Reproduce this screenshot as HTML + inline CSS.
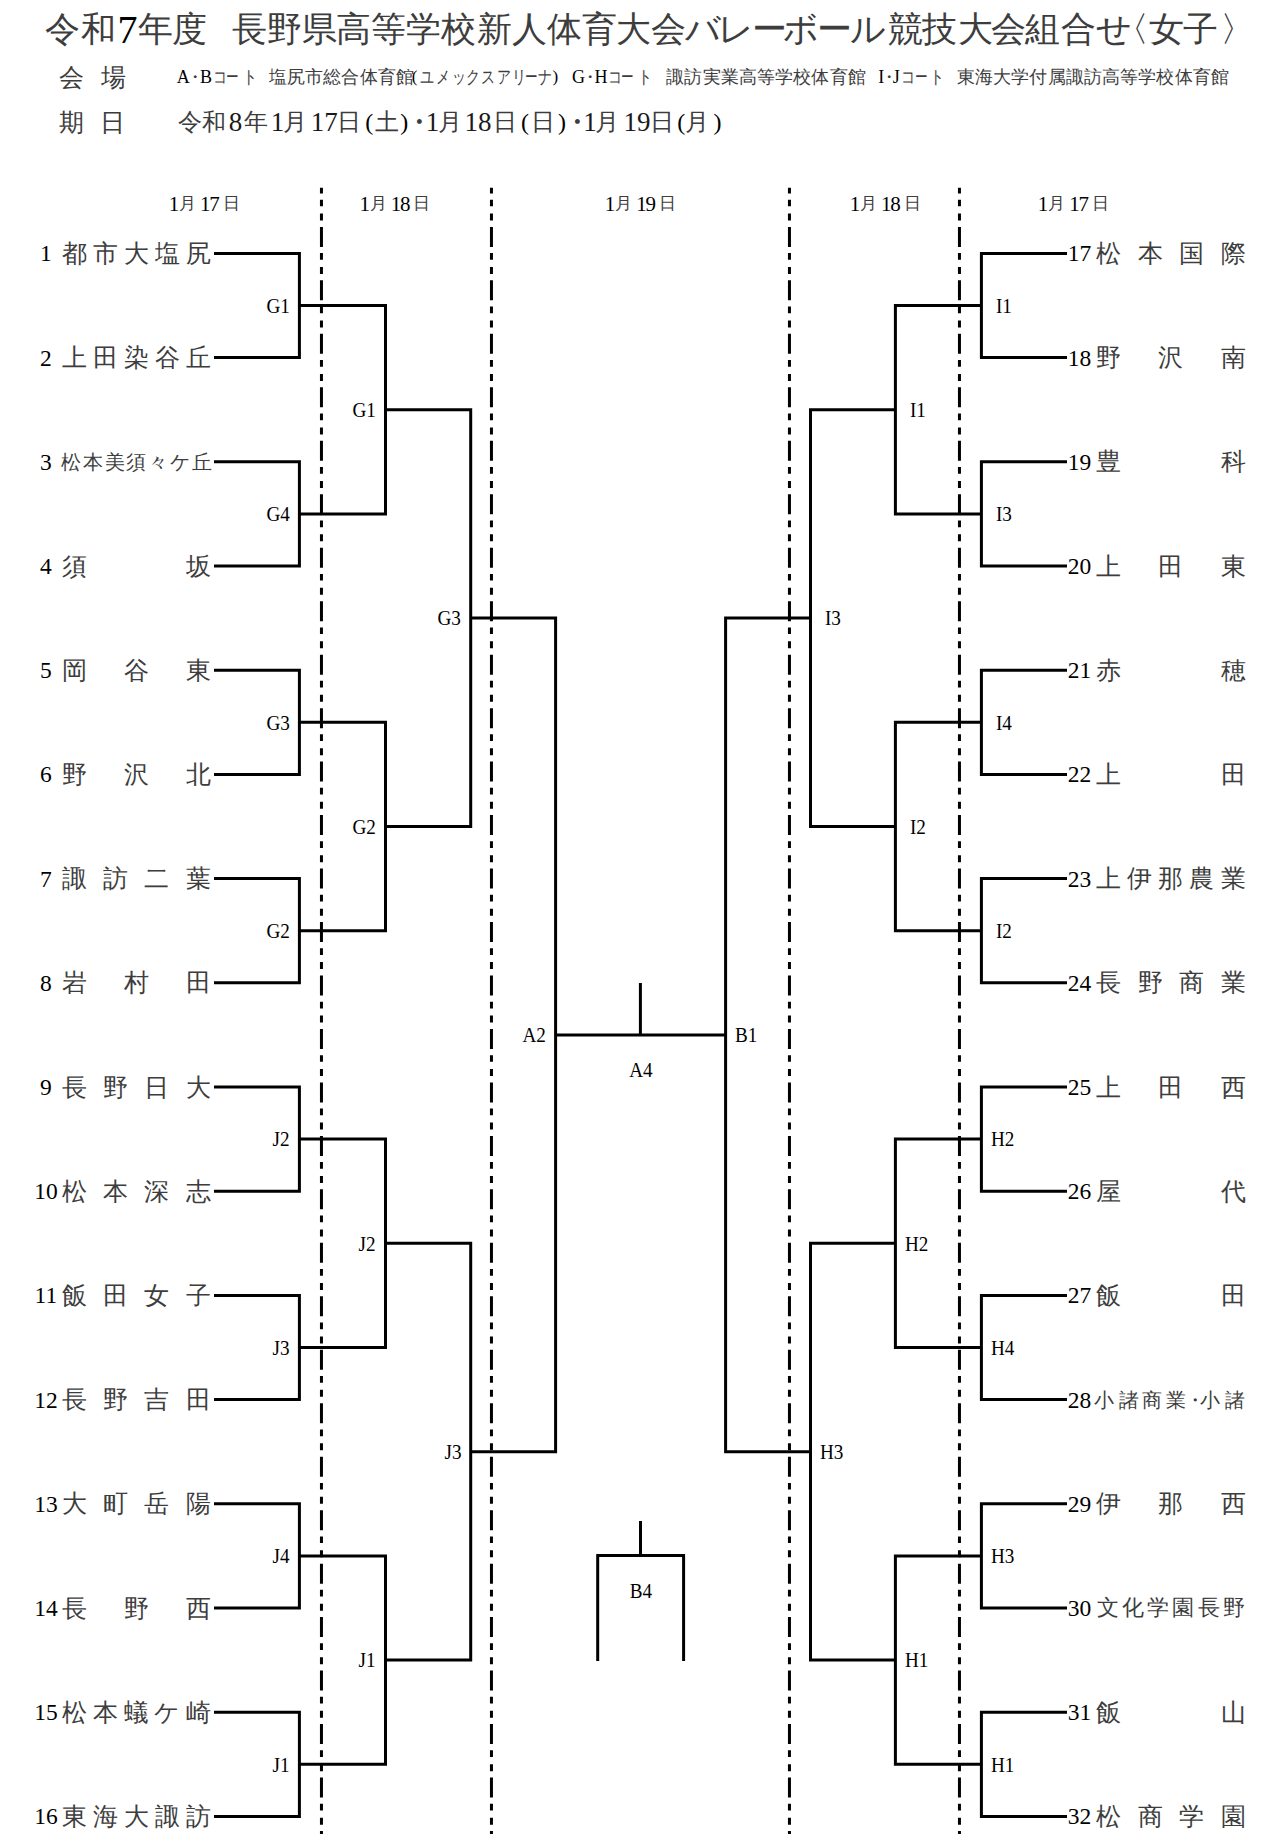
<!DOCTYPE html>
<html lang="ja"><head><meta charset="utf-8"><title>組合せ</title>
<style>
html,body{margin:0;padding:0;background:#fff}
body{width:1279px;height:1839px;position:relative;overflow:hidden;color:#000;font-family:"Liberation Serif",serif}
.c{position:absolute;text-align:center;white-space:nowrap;font-family:"Liberation Serif",serif}
.j{color:#3d3d3d}
.lb{position:absolute;white-space:nowrap;font-size:22px;line-height:22px;height:22px;font-family:"Liberation Serif",serif}
.l{transform:scaleX(.87);transform-origin:100% 50%;text-align:right}
.r{transform:scaleX(.87);transform-origin:0 50%}
.cc{text-align:center;transform:scaleX(.87)}
svg{position:absolute;left:0;top:0}
</style></head><body>
<svg width="1279" height="1839" viewBox="0 0 1279 1839">
<g fill="none" stroke="#000" stroke-width="3" stroke-linejoin="miter" stroke-linecap="butt">
<path d="M214 253.40H299.4V357.60H214"/>
<path d="M214 461.80H299.4V566.00H214"/>
<path d="M214 670.20H299.4V774.40H214"/>
<path d="M214 878.60H299.4V982.80H214"/>
<path d="M214 1087.00H299.4V1191.20H214"/>
<path d="M214 1295.40H299.4V1399.60H214"/>
<path d="M214 1503.80H299.4V1608.00H214"/>
<path d="M214 1712.20H299.4V1816.40H214"/>
<path d="M299.4 305.50H385.5V513.90H299.4"/>
<path d="M299.4 722.30H385.5V930.70H299.4"/>
<path d="M299.4 1139.10H385.5V1347.50H299.4"/>
<path d="M299.4 1555.90H385.5V1764.30H299.4"/>
<path d="M385.5 409.70H470.7V826.50H385.5"/>
<path d="M385.5 1243.30H470.7V1660.10H385.5"/>
<path d="M470.7 618.10H555.6V1451.70H470.7"/>
<path d="M1067 253.40H981.4V357.60H1067"/>
<path d="M1067 461.80H981.4V566.00H1067"/>
<path d="M1067 670.20H981.4V774.40H1067"/>
<path d="M1067 878.60H981.4V982.80H1067"/>
<path d="M1067 1087.00H981.4V1191.20H1067"/>
<path d="M1067 1295.40H981.4V1399.60H1067"/>
<path d="M1067 1503.80H981.4V1608.00H1067"/>
<path d="M1067 1712.20H981.4V1816.40H1067"/>
<path d="M981.4 305.50H895.4V513.90H981.4"/>
<path d="M981.4 722.30H895.4V930.70H981.4"/>
<path d="M981.4 1139.10H895.4V1347.50H981.4"/>
<path d="M981.4 1555.90H895.4V1764.30H981.4"/>
<path d="M895.4 409.70H810.5V826.50H895.4"/>
<path d="M895.4 1243.30H810.5V1660.10H895.4"/>
<path d="M810.5 618.10H725.6V1451.70H810.5"/>
<path d="M555.6 1034.90H725.6"/>
<path d="M640.4 983V1034.90"/>
<path d="M597.7 1661V1555.5H683.6V1661"/>
<path d="M640.5 1521V1555.5"/>
</g>
<g fill="none" stroke="#000" stroke-width="3" stroke-dasharray="20 6.2 6.7 7.2 7 6.37" stroke-dashoffset="14.37">
<path d="M321.45 187.8V1834"/>
<path d="M491.45 187.8V1834"/>
<path d="M789.45 187.8V1834"/>
<path d="M959.45 187.8V1834"/>
</g>
</svg>
<span class="c j" style="left:41.9px;top:12.2px;width:42.0px;font-size:35px;line-height:35px;height:35px">令</span>
<span class="c j" style="left:77.0px;top:12.2px;width:42.0px;font-size:35px;line-height:35px;height:35px">和</span>
<span class="c" style="left:103.4px;top:10.0px;width:48.0px;font-size:40px;line-height:40px;height:40px">7</span>
<span class="c j" style="left:134.0px;top:12.2px;width:42.0px;font-size:35px;line-height:35px;height:35px">年</span>
<span class="c j" style="left:168.5px;top:12.2px;width:42.0px;font-size:35px;line-height:35px;height:35px">度</span>
<span class="c j" style="left:228.4px;top:12.2px;width:42.0px;font-size:35px;line-height:35px;height:35px">長</span>
<span class="c j" style="left:263.5px;top:12.2px;width:42.0px;font-size:35px;line-height:35px;height:35px">野</span>
<span class="c j" style="left:298.2px;top:12.2px;width:42.0px;font-size:35px;line-height:35px;height:35px">県</span>
<span class="c j" style="left:332.4px;top:12.2px;width:42.0px;font-size:35px;line-height:35px;height:35px">高</span>
<span class="c j" style="left:367.0px;top:12.2px;width:42.0px;font-size:35px;line-height:35px;height:35px">等</span>
<span class="c j" style="left:402.3px;top:12.2px;width:42.0px;font-size:35px;line-height:35px;height:35px">学</span>
<span class="c j" style="left:437.5px;top:12.2px;width:42.0px;font-size:35px;line-height:35px;height:35px">校</span>
<span class="c j" style="left:473.0px;top:12.2px;width:42.0px;font-size:35px;line-height:35px;height:35px">新</span>
<span class="c j" style="left:508.0px;top:12.2px;width:42.0px;font-size:35px;line-height:35px;height:35px">人</span>
<span class="c j" style="left:543.0px;top:12.2px;width:42.0px;font-size:35px;line-height:35px;height:35px">体</span>
<span class="c j" style="left:578.4px;top:12.2px;width:42.0px;font-size:35px;line-height:35px;height:35px">育</span>
<span class="c j" style="left:612.0px;top:12.2px;width:42.0px;font-size:35px;line-height:35px;height:35px">大</span>
<span class="c j" style="left:647.8px;top:12.2px;width:42.0px;font-size:35px;line-height:35px;height:35px">会</span>
<span class="c j" style="left:681.6px;top:12.2px;width:42.0px;font-size:35px;line-height:35px;height:35px">バ</span>
<span class="c j" style="left:715.4px;top:12.2px;width:42.0px;font-size:35px;line-height:35px;height:35px">レ</span>
<span class="c j" style="left:748.0px;top:12.2px;width:42.0px;font-size:35px;line-height:35px;height:35px">ー</span>
<span class="c j" style="left:779.8px;top:12.2px;width:42.0px;font-size:35px;line-height:35px;height:35px">ボ</span>
<span class="c j" style="left:813.1px;top:12.2px;width:42.0px;font-size:35px;line-height:35px;height:35px">ー</span>
<span class="c j" style="left:847.0px;top:12.2px;width:42.0px;font-size:35px;line-height:35px;height:35px">ル</span>
<span class="c j" style="left:884.4px;top:12.2px;width:42.0px;font-size:35px;line-height:35px;height:35px">競</span>
<span class="c j" style="left:918.5px;top:12.2px;width:42.0px;font-size:35px;line-height:35px;height:35px">技</span>
<span class="c j" style="left:954.0px;top:12.2px;width:42.0px;font-size:35px;line-height:35px;height:35px">大</span>
<span class="c j" style="left:987.3px;top:12.2px;width:42.0px;font-size:35px;line-height:35px;height:35px">会</span>
<span class="c j" style="left:1021.4px;top:12.2px;width:42.0px;font-size:35px;line-height:35px;height:35px">組</span>
<span class="c j" style="left:1057.0px;top:12.2px;width:42.0px;font-size:35px;line-height:35px;height:35px">合</span>
<span class="c j" style="left:1092.5px;top:12.2px;width:42.0px;font-size:35px;line-height:35px;height:35px">せ</span>
<span class="c j" style="left:1110.5px;top:12.2px;width:42.0px;font-size:35px;line-height:35px;height:35px">〈</span>
<span class="c j" style="left:1145.3px;top:12.2px;width:42.0px;font-size:35px;line-height:35px;height:35px">女</span>
<span class="c j" style="left:1179.4px;top:12.2px;width:42.0px;font-size:35px;line-height:35px;height:35px">子</span>
<span class="c j" style="left:1216.9px;top:12.2px;width:42.0px;font-size:35px;line-height:35px;height:35px">〉</span>
<span class="c j" style="left:56.2px;top:64.7px;width:30.0px;font-size:25px;line-height:25px;height:25px">会</span>
<span class="c j" style="left:98.0px;top:64.7px;width:30.0px;font-size:25px;line-height:25px;height:25px">場</span>
<span class="c j" style="left:56.2px;top:109.5px;width:30.0px;font-size:25px;line-height:25px;height:25px">期</span>
<span class="c j" style="left:97.5px;top:109.5px;width:30.0px;font-size:25px;line-height:25px;height:25px">日</span>
<span class="c" style="left:172.5px;top:68.0px;width:21.6px;font-size:18px;line-height:18px;height:18px">A</span>
<span class="c j" style="left:184.2px;top:68.0px;width:21.6px;font-size:18px;line-height:18px;height:18px">・</span>
<span class="c" style="left:195.2px;top:68.0px;width:21.6px;font-size:18px;line-height:18px;height:18px">B</span>
<span class="c j" style="left:208.5px;top:68.0px;width:21.6px;font-size:18px;line-height:18px;height:18px;transform:scaleX(.78)">コ</span>
<span class="c j" style="left:222.2px;top:68.0px;width:21.6px;font-size:18px;line-height:18px;height:18px;transform:scaleX(.7)">ー</span>
<span class="c j" style="left:238.6px;top:68.0px;width:21.6px;font-size:18px;line-height:18px;height:18px;transform:scaleX(.78)">ト</span>
<span class="c j" style="left:267.1px;top:68.0px;width:21.6px;font-size:18px;line-height:18px;height:18px">塩</span>
<span class="c j" style="left:285.2px;top:68.0px;width:21.6px;font-size:18px;line-height:18px;height:18px">尻</span>
<span class="c j" style="left:303.4px;top:68.0px;width:21.6px;font-size:18px;line-height:18px;height:18px">市</span>
<span class="c j" style="left:321.5px;top:68.0px;width:21.6px;font-size:18px;line-height:18px;height:18px">総</span>
<span class="c j" style="left:339.7px;top:68.0px;width:21.6px;font-size:18px;line-height:18px;height:18px">合</span>
<span class="c j" style="left:357.8px;top:68.0px;width:21.6px;font-size:18px;line-height:18px;height:18px">体</span>
<span class="c j" style="left:376.0px;top:68.0px;width:21.6px;font-size:18px;line-height:18px;height:18px">育</span>
<span class="c j" style="left:394.1px;top:68.0px;width:21.6px;font-size:18px;line-height:18px;height:18px">館</span>
<span class="c" style="left:404.5px;top:68.0px;width:20.4px;font-size:17px;line-height:17px;height:17px">(</span>
<span class="c j" style="left:415.7px;top:68.0px;width:21.6px;font-size:18px;line-height:18px;height:18px;transform:scaleX(.78)">ユ</span>
<span class="c j" style="left:432.2px;top:68.0px;width:21.6px;font-size:18px;line-height:18px;height:18px;transform:scaleX(.78)">メ</span>
<span class="c j" style="left:447.7px;top:68.0px;width:21.6px;font-size:18px;line-height:18px;height:18px;transform:scaleX(.78)">ッ</span>
<span class="c j" style="left:461.8px;top:68.0px;width:21.6px;font-size:18px;line-height:18px;height:18px;transform:scaleX(.78)">ク</span>
<span class="c j" style="left:477.4px;top:68.0px;width:21.6px;font-size:18px;line-height:18px;height:18px;transform:scaleX(.78)">ス</span>
<span class="c j" style="left:492.6px;top:68.0px;width:21.6px;font-size:18px;line-height:18px;height:18px;transform:scaleX(.78)">ア</span>
<span class="c j" style="left:507.5px;top:68.0px;width:21.6px;font-size:18px;line-height:18px;height:18px;transform:scaleX(.78)">リ</span>
<span class="c j" style="left:521.0px;top:68.0px;width:21.6px;font-size:18px;line-height:18px;height:18px;transform:scaleX(.7)">ー</span>
<span class="c j" style="left:534.2px;top:68.0px;width:21.6px;font-size:18px;line-height:18px;height:18px;transform:scaleX(.78)">ナ</span>
<span class="c" style="left:545.2px;top:68.0px;width:20.4px;font-size:17px;line-height:17px;height:17px">)</span>
<span class="c" style="left:567.6px;top:68.0px;width:21.6px;font-size:18px;line-height:18px;height:18px">G</span>
<span class="c j" style="left:579.3px;top:68.0px;width:21.6px;font-size:18px;line-height:18px;height:18px">・</span>
<span class="c" style="left:590.3px;top:68.0px;width:21.6px;font-size:18px;line-height:18px;height:18px">H</span>
<span class="c j" style="left:603.6px;top:68.0px;width:21.6px;font-size:18px;line-height:18px;height:18px;transform:scaleX(.78)">コ</span>
<span class="c j" style="left:617.3px;top:68.0px;width:21.6px;font-size:18px;line-height:18px;height:18px;transform:scaleX(.7)">ー</span>
<span class="c j" style="left:633.7px;top:68.0px;width:21.6px;font-size:18px;line-height:18px;height:18px;transform:scaleX(.78)">ト</span>
<span class="c j" style="left:664.5px;top:68.0px;width:21.6px;font-size:18px;line-height:18px;height:18px">諏</span>
<span class="c j" style="left:682.6px;top:68.0px;width:21.6px;font-size:18px;line-height:18px;height:18px">訪</span>
<span class="c j" style="left:700.8px;top:68.0px;width:21.6px;font-size:18px;line-height:18px;height:18px">実</span>
<span class="c j" style="left:719.0px;top:68.0px;width:21.6px;font-size:18px;line-height:18px;height:18px">業</span>
<span class="c j" style="left:737.1px;top:68.0px;width:21.6px;font-size:18px;line-height:18px;height:18px">高</span>
<span class="c j" style="left:755.2px;top:68.0px;width:21.6px;font-size:18px;line-height:18px;height:18px">等</span>
<span class="c j" style="left:773.4px;top:68.0px;width:21.6px;font-size:18px;line-height:18px;height:18px">学</span>
<span class="c j" style="left:791.5px;top:68.0px;width:21.6px;font-size:18px;line-height:18px;height:18px">校</span>
<span class="c j" style="left:809.7px;top:68.0px;width:21.6px;font-size:18px;line-height:18px;height:18px">体</span>
<span class="c j" style="left:827.9px;top:68.0px;width:21.6px;font-size:18px;line-height:18px;height:18px">育</span>
<span class="c j" style="left:846.0px;top:68.0px;width:21.6px;font-size:18px;line-height:18px;height:18px">館</span>
<span class="c" style="left:870.5px;top:68.0px;width:21.6px;font-size:18px;line-height:18px;height:18px">I</span>
<span class="c j" style="left:878.0px;top:68.0px;width:21.6px;font-size:18px;line-height:18px;height:18px">・</span>
<span class="c" style="left:885.4px;top:68.0px;width:21.6px;font-size:18px;line-height:18px;height:18px">J</span>
<span class="c j" style="left:897.1px;top:68.0px;width:21.6px;font-size:18px;line-height:18px;height:18px;transform:scaleX(.78)">コ</span>
<span class="c j" style="left:911.2px;top:68.0px;width:21.6px;font-size:18px;line-height:18px;height:18px;transform:scaleX(.7)">ー</span>
<span class="c j" style="left:926.4px;top:68.0px;width:21.6px;font-size:18px;line-height:18px;height:18px;transform:scaleX(.78)">ト</span>
<span class="c j" style="left:955.0px;top:68.0px;width:21.6px;font-size:18px;line-height:18px;height:18px">東</span>
<span class="c j" style="left:973.1px;top:68.0px;width:21.6px;font-size:18px;line-height:18px;height:18px">海</span>
<span class="c j" style="left:991.3px;top:68.0px;width:21.6px;font-size:18px;line-height:18px;height:18px">大</span>
<span class="c j" style="left:1009.5px;top:68.0px;width:21.6px;font-size:18px;line-height:18px;height:18px">学</span>
<span class="c j" style="left:1027.6px;top:68.0px;width:21.6px;font-size:18px;line-height:18px;height:18px">付</span>
<span class="c j" style="left:1045.8px;top:68.0px;width:21.6px;font-size:18px;line-height:18px;height:18px">属</span>
<span class="c j" style="left:1063.9px;top:68.0px;width:21.6px;font-size:18px;line-height:18px;height:18px">諏</span>
<span class="c j" style="left:1082.0px;top:68.0px;width:21.6px;font-size:18px;line-height:18px;height:18px">訪</span>
<span class="c j" style="left:1100.2px;top:68.0px;width:21.6px;font-size:18px;line-height:18px;height:18px">高</span>
<span class="c j" style="left:1118.3px;top:68.0px;width:21.6px;font-size:18px;line-height:18px;height:18px">等</span>
<span class="c j" style="left:1136.5px;top:68.0px;width:21.6px;font-size:18px;line-height:18px;height:18px">学</span>
<span class="c j" style="left:1154.6px;top:68.0px;width:21.6px;font-size:18px;line-height:18px;height:18px">校</span>
<span class="c j" style="left:1172.8px;top:68.0px;width:21.6px;font-size:18px;line-height:18px;height:18px">体</span>
<span class="c j" style="left:1191.0px;top:68.0px;width:21.6px;font-size:18px;line-height:18px;height:18px">育</span>
<span class="c j" style="left:1209.1px;top:68.0px;width:21.6px;font-size:18px;line-height:18px;height:18px">館</span>
<span class="c j" style="left:175.6px;top:110.0px;width:28.8px;font-size:24px;line-height:24px;height:24px">令</span>
<span class="c j" style="left:199.3px;top:110.0px;width:28.8px;font-size:24px;line-height:24px;height:24px">和</span>
<span class="c" style="left:219.4px;top:108.7px;width:32.4px;font-size:27px;line-height:27px;height:27px;color:#1a1a1a">8</span>
<span class="c j" style="left:241.2px;top:110.0px;width:28.8px;font-size:24px;line-height:24px;height:24px">年</span>
<span class="c" style="left:261.3px;top:108.7px;width:32.4px;font-size:27px;line-height:27px;height:27px;color:#1a1a1a">1</span>
<span class="c j" style="left:280.6px;top:110.0px;width:28.8px;font-size:24px;line-height:24px;height:24px">月</span>
<span class="c" style="left:308.1px;top:108.7px;width:32.4px;font-size:27px;line-height:27px;height:27px;color:#1a1a1a">17</span>
<span class="c j" style="left:334.9px;top:110.0px;width:28.8px;font-size:24px;line-height:24px;height:24px">日</span>
<span class="c" style="left:354.9px;top:110.0px;width:28.8px;font-size:24px;line-height:24px;height:24px">(</span>
<span class="c j" style="left:372.6px;top:110.0px;width:28.8px;font-size:24px;line-height:24px;height:24px">土</span>
<span class="c" style="left:389.9px;top:110.0px;width:28.8px;font-size:24px;line-height:24px;height:24px">)</span>
<span class="c j" style="left:400.5px;top:107.0px;width:36.0px;font-size:30px;line-height:30px;height:30px">・</span>
<span class="c" style="left:416.3px;top:108.7px;width:32.4px;font-size:27px;line-height:27px;height:27px;color:#1a1a1a">1</span>
<span class="c j" style="left:436.1px;top:110.0px;width:28.8px;font-size:24px;line-height:24px;height:24px">月</span>
<span class="c" style="left:461.8px;top:108.7px;width:32.4px;font-size:27px;line-height:27px;height:27px;color:#1a1a1a">18</span>
<span class="c j" style="left:490.6px;top:110.0px;width:28.8px;font-size:24px;line-height:24px;height:24px">日</span>
<span class="c" style="left:510.6px;top:110.0px;width:28.8px;font-size:24px;line-height:24px;height:24px">(</span>
<span class="c j" style="left:529.1px;top:110.0px;width:28.8px;font-size:24px;line-height:24px;height:24px">日</span>
<span class="c" style="left:547.6px;top:110.0px;width:28.8px;font-size:24px;line-height:24px;height:24px">)</span>
<span class="c j" style="left:558.5px;top:107.0px;width:36.0px;font-size:30px;line-height:30px;height:30px">・</span>
<span class="c" style="left:573.8px;top:108.7px;width:32.4px;font-size:27px;line-height:27px;height:27px;color:#1a1a1a">1</span>
<span class="c j" style="left:593.1px;top:110.0px;width:28.8px;font-size:24px;line-height:24px;height:24px">月</span>
<span class="c" style="left:620.8px;top:108.7px;width:32.4px;font-size:27px;line-height:27px;height:27px;color:#1a1a1a">19</span>
<span class="c j" style="left:648.1px;top:110.0px;width:28.8px;font-size:24px;line-height:24px;height:24px">日</span>
<span class="c" style="left:666.9px;top:110.0px;width:28.8px;font-size:24px;line-height:24px;height:24px">(</span>
<span class="c j" style="left:683.1px;top:110.0px;width:28.8px;font-size:24px;line-height:24px;height:24px">月</span>
<span class="c" style="left:703.1px;top:110.0px;width:28.8px;font-size:24px;line-height:24px;height:24px">)</span>
<span class="c" style="left:161.3px;top:193.6px;width:25.2px;font-size:21px;line-height:21px;height:21px">1</span>
<span class="c j" style="left:177.4px;top:195.1px;width:20.4px;font-size:17px;line-height:17px;height:17px">月</span>
<span class="c" style="left:192.6px;top:193.6px;width:25.2px;font-size:21px;line-height:21px;height:21px">1</span>
<span class="c" style="left:201.9px;top:193.6px;width:25.2px;font-size:21px;line-height:21px;height:21px">7</span>
<span class="c j" style="left:220.9px;top:195.2px;width:20.4px;font-size:17px;line-height:17px;height:17px">日</span>
<span class="c" style="left:352.1px;top:193.6px;width:25.2px;font-size:21px;line-height:21px;height:21px">1</span>
<span class="c j" style="left:368.2px;top:195.1px;width:20.4px;font-size:17px;line-height:17px;height:17px">月</span>
<span class="c" style="left:383.4px;top:193.6px;width:25.2px;font-size:21px;line-height:21px;height:21px">1</span>
<span class="c" style="left:392.7px;top:193.6px;width:25.2px;font-size:21px;line-height:21px;height:21px">8</span>
<span class="c j" style="left:411.7px;top:195.2px;width:20.4px;font-size:17px;line-height:17px;height:17px">日</span>
<span class="c" style="left:597.5px;top:193.6px;width:25.2px;font-size:21px;line-height:21px;height:21px">1</span>
<span class="c j" style="left:613.6px;top:195.1px;width:20.4px;font-size:17px;line-height:17px;height:17px">月</span>
<span class="c" style="left:628.8px;top:193.6px;width:25.2px;font-size:21px;line-height:21px;height:21px">1</span>
<span class="c" style="left:638.1px;top:193.6px;width:25.2px;font-size:21px;line-height:21px;height:21px">9</span>
<span class="c j" style="left:657.1px;top:195.2px;width:20.4px;font-size:17px;line-height:17px;height:17px">日</span>
<span class="c" style="left:842.4px;top:193.6px;width:25.2px;font-size:21px;line-height:21px;height:21px">1</span>
<span class="c j" style="left:858.5px;top:195.1px;width:20.4px;font-size:17px;line-height:17px;height:17px">月</span>
<span class="c" style="left:873.7px;top:193.6px;width:25.2px;font-size:21px;line-height:21px;height:21px">1</span>
<span class="c" style="left:883.0px;top:193.6px;width:25.2px;font-size:21px;line-height:21px;height:21px">8</span>
<span class="c j" style="left:902.0px;top:195.2px;width:20.4px;font-size:17px;line-height:17px;height:17px">日</span>
<span class="c" style="left:1030.5px;top:193.6px;width:25.2px;font-size:21px;line-height:21px;height:21px">1</span>
<span class="c j" style="left:1046.6px;top:195.1px;width:20.4px;font-size:17px;line-height:17px;height:17px">月</span>
<span class="c" style="left:1061.8px;top:193.6px;width:25.2px;font-size:21px;line-height:21px;height:21px">1</span>
<span class="c" style="left:1071.1px;top:193.6px;width:25.2px;font-size:21px;line-height:21px;height:21px">7</span>
<span class="c j" style="left:1090.1px;top:195.2px;width:20.4px;font-size:17px;line-height:17px;height:17px">日</span>
<span class="c" style="left:25.9px;top:242.3px;width:40.0px;font-size:23.5px;line-height:23.5px;height:23.5px">1</span>
<span class="c j" style="left:59.0px;top:240.8px;width:30.0px;font-size:25px;line-height:25px;height:25px">都</span>
<span class="c j" style="left:90.0px;top:240.8px;width:30.0px;font-size:25px;line-height:25px;height:25px">市</span>
<span class="c j" style="left:121.0px;top:240.8px;width:30.0px;font-size:25px;line-height:25px;height:25px">大</span>
<span class="c j" style="left:152.0px;top:240.8px;width:30.0px;font-size:25px;line-height:25px;height:25px">塩</span>
<span class="c j" style="left:183.0px;top:240.8px;width:30.0px;font-size:25px;line-height:25px;height:25px">尻</span>
<span class="c" style="left:25.9px;top:346.5px;width:40.0px;font-size:23.5px;line-height:23.5px;height:23.5px">2</span>
<span class="c j" style="left:59.0px;top:345.1px;width:30.0px;font-size:25px;line-height:25px;height:25px">上</span>
<span class="c j" style="left:90.0px;top:345.1px;width:30.0px;font-size:25px;line-height:25px;height:25px">田</span>
<span class="c j" style="left:121.0px;top:345.1px;width:30.0px;font-size:25px;line-height:25px;height:25px">染</span>
<span class="c j" style="left:152.0px;top:345.1px;width:30.0px;font-size:25px;line-height:25px;height:25px">谷</span>
<span class="c j" style="left:183.0px;top:345.1px;width:30.0px;font-size:25px;line-height:25px;height:25px">丘</span>
<span class="c" style="left:25.9px;top:450.7px;width:40.0px;font-size:23.5px;line-height:23.5px;height:23.5px">3</span>
<span class="c j" style="left:59.4px;top:451.7px;width:24.0px;font-size:20px;line-height:20px;height:20px">松</span>
<span class="c j" style="left:81.1px;top:451.7px;width:24.0px;font-size:20px;line-height:20px;height:20px">本</span>
<span class="c j" style="left:102.8px;top:451.7px;width:24.0px;font-size:20px;line-height:20px;height:20px">美</span>
<span class="c j" style="left:124.4px;top:451.7px;width:24.0px;font-size:20px;line-height:20px;height:20px">須</span>
<span class="c j" style="left:146.1px;top:451.7px;width:24.0px;font-size:20px;line-height:20px;height:20px">々</span>
<span class="c j" style="left:167.8px;top:451.7px;width:24.0px;font-size:20px;line-height:20px;height:20px">ケ</span>
<span class="c j" style="left:189.5px;top:451.7px;width:24.0px;font-size:20px;line-height:20px;height:20px">丘</span>
<span class="c" style="left:25.9px;top:554.9px;width:40.0px;font-size:23.5px;line-height:23.5px;height:23.5px">4</span>
<span class="c j" style="left:59.0px;top:553.5px;width:30.0px;font-size:25px;line-height:25px;height:25px">須</span>
<span class="c j" style="left:183.0px;top:553.5px;width:30.0px;font-size:25px;line-height:25px;height:25px">坂</span>
<span class="c" style="left:25.9px;top:659.1px;width:40.0px;font-size:23.5px;line-height:23.5px;height:23.5px">5</span>
<span class="c j" style="left:59.0px;top:657.7px;width:30.0px;font-size:25px;line-height:25px;height:25px">岡</span>
<span class="c j" style="left:121.0px;top:657.7px;width:30.0px;font-size:25px;line-height:25px;height:25px">谷</span>
<span class="c j" style="left:183.0px;top:657.7px;width:30.0px;font-size:25px;line-height:25px;height:25px">東</span>
<span class="c" style="left:25.9px;top:763.3px;width:40.0px;font-size:23.5px;line-height:23.5px;height:23.5px">6</span>
<span class="c j" style="left:59.0px;top:761.9px;width:30.0px;font-size:25px;line-height:25px;height:25px">野</span>
<span class="c j" style="left:121.0px;top:761.9px;width:30.0px;font-size:25px;line-height:25px;height:25px">沢</span>
<span class="c j" style="left:183.0px;top:761.9px;width:30.0px;font-size:25px;line-height:25px;height:25px">北</span>
<span class="c" style="left:25.9px;top:867.5px;width:40.0px;font-size:23.5px;line-height:23.5px;height:23.5px">7</span>
<span class="c j" style="left:59.0px;top:866.1px;width:30.0px;font-size:25px;line-height:25px;height:25px">諏</span>
<span class="c j" style="left:100.3px;top:866.1px;width:30.0px;font-size:25px;line-height:25px;height:25px">訪</span>
<span class="c j" style="left:141.7px;top:866.1px;width:30.0px;font-size:25px;line-height:25px;height:25px">二</span>
<span class="c j" style="left:183.0px;top:866.1px;width:30.0px;font-size:25px;line-height:25px;height:25px">葉</span>
<span class="c" style="left:25.9px;top:971.7px;width:40.0px;font-size:23.5px;line-height:23.5px;height:23.5px">8</span>
<span class="c j" style="left:59.0px;top:970.2px;width:30.0px;font-size:25px;line-height:25px;height:25px">岩</span>
<span class="c j" style="left:121.0px;top:970.2px;width:30.0px;font-size:25px;line-height:25px;height:25px">村</span>
<span class="c j" style="left:183.0px;top:970.2px;width:30.0px;font-size:25px;line-height:25px;height:25px">田</span>
<span class="c" style="left:25.9px;top:1075.9px;width:40.0px;font-size:23.5px;line-height:23.5px;height:23.5px">9</span>
<span class="c j" style="left:59.0px;top:1074.5px;width:30.0px;font-size:25px;line-height:25px;height:25px">長</span>
<span class="c j" style="left:100.3px;top:1074.5px;width:30.0px;font-size:25px;line-height:25px;height:25px">野</span>
<span class="c j" style="left:141.7px;top:1074.5px;width:30.0px;font-size:25px;line-height:25px;height:25px">日</span>
<span class="c j" style="left:183.0px;top:1074.5px;width:30.0px;font-size:25px;line-height:25px;height:25px">大</span>
<span class="c" style="left:25.9px;top:1180.1px;width:40.0px;font-size:23.5px;line-height:23.5px;height:23.5px">10</span>
<span class="c j" style="left:59.0px;top:1178.7px;width:30.0px;font-size:25px;line-height:25px;height:25px">松</span>
<span class="c j" style="left:100.3px;top:1178.7px;width:30.0px;font-size:25px;line-height:25px;height:25px">本</span>
<span class="c j" style="left:141.7px;top:1178.7px;width:30.0px;font-size:25px;line-height:25px;height:25px">深</span>
<span class="c j" style="left:183.0px;top:1178.7px;width:30.0px;font-size:25px;line-height:25px;height:25px">志</span>
<span class="c" style="left:25.9px;top:1284.3px;width:40.0px;font-size:23.5px;line-height:23.5px;height:23.5px">11</span>
<span class="c j" style="left:59.0px;top:1282.9px;width:30.0px;font-size:25px;line-height:25px;height:25px">飯</span>
<span class="c j" style="left:100.3px;top:1282.9px;width:30.0px;font-size:25px;line-height:25px;height:25px">田</span>
<span class="c j" style="left:141.7px;top:1282.9px;width:30.0px;font-size:25px;line-height:25px;height:25px">女</span>
<span class="c j" style="left:183.0px;top:1282.9px;width:30.0px;font-size:25px;line-height:25px;height:25px">子</span>
<span class="c" style="left:25.9px;top:1388.5px;width:40.0px;font-size:23.5px;line-height:23.5px;height:23.5px">12</span>
<span class="c j" style="left:59.0px;top:1387.1px;width:30.0px;font-size:25px;line-height:25px;height:25px">長</span>
<span class="c j" style="left:100.3px;top:1387.1px;width:30.0px;font-size:25px;line-height:25px;height:25px">野</span>
<span class="c j" style="left:141.7px;top:1387.1px;width:30.0px;font-size:25px;line-height:25px;height:25px">吉</span>
<span class="c j" style="left:183.0px;top:1387.1px;width:30.0px;font-size:25px;line-height:25px;height:25px">田</span>
<span class="c" style="left:25.9px;top:1492.7px;width:40.0px;font-size:23.5px;line-height:23.5px;height:23.5px">13</span>
<span class="c j" style="left:59.0px;top:1491.3px;width:30.0px;font-size:25px;line-height:25px;height:25px">大</span>
<span class="c j" style="left:100.3px;top:1491.3px;width:30.0px;font-size:25px;line-height:25px;height:25px">町</span>
<span class="c j" style="left:141.7px;top:1491.3px;width:30.0px;font-size:25px;line-height:25px;height:25px">岳</span>
<span class="c j" style="left:183.0px;top:1491.3px;width:30.0px;font-size:25px;line-height:25px;height:25px">陽</span>
<span class="c" style="left:25.9px;top:1596.9px;width:40.0px;font-size:23.5px;line-height:23.5px;height:23.5px">14</span>
<span class="c j" style="left:59.0px;top:1595.5px;width:30.0px;font-size:25px;line-height:25px;height:25px">長</span>
<span class="c j" style="left:121.0px;top:1595.5px;width:30.0px;font-size:25px;line-height:25px;height:25px">野</span>
<span class="c j" style="left:183.0px;top:1595.5px;width:30.0px;font-size:25px;line-height:25px;height:25px">西</span>
<span class="c" style="left:25.9px;top:1701.1px;width:40.0px;font-size:23.5px;line-height:23.5px;height:23.5px">15</span>
<span class="c j" style="left:59.0px;top:1699.7px;width:30.0px;font-size:25px;line-height:25px;height:25px">松</span>
<span class="c j" style="left:90.0px;top:1699.7px;width:30.0px;font-size:25px;line-height:25px;height:25px">本</span>
<span class="c j" style="left:121.0px;top:1699.7px;width:30.0px;font-size:25px;line-height:25px;height:25px">蟻</span>
<span class="c j" style="left:152.0px;top:1699.7px;width:30.0px;font-size:25px;line-height:25px;height:25px">ケ</span>
<span class="c j" style="left:183.0px;top:1699.7px;width:30.0px;font-size:25px;line-height:25px;height:25px">崎</span>
<span class="c" style="left:25.9px;top:1805.3px;width:40.0px;font-size:23.5px;line-height:23.5px;height:23.5px">16</span>
<span class="c j" style="left:59.0px;top:1803.9px;width:30.0px;font-size:25px;line-height:25px;height:25px">東</span>
<span class="c j" style="left:90.0px;top:1803.9px;width:30.0px;font-size:25px;line-height:25px;height:25px">海</span>
<span class="c j" style="left:121.0px;top:1803.9px;width:30.0px;font-size:25px;line-height:25px;height:25px">大</span>
<span class="c j" style="left:152.0px;top:1803.9px;width:30.0px;font-size:25px;line-height:25px;height:25px">諏</span>
<span class="c j" style="left:183.0px;top:1803.9px;width:30.0px;font-size:25px;line-height:25px;height:25px">訪</span>
<span class="c" style="left:1059.5px;top:242.3px;width:40.0px;font-size:23.5px;line-height:23.5px;height:23.5px">17</span>
<span class="c j" style="left:1093.5px;top:240.8px;width:30.0px;font-size:25px;line-height:25px;height:25px">松</span>
<span class="c j" style="left:1135.0px;top:240.8px;width:30.0px;font-size:25px;line-height:25px;height:25px">本</span>
<span class="c j" style="left:1176.5px;top:240.8px;width:30.0px;font-size:25px;line-height:25px;height:25px">国</span>
<span class="c j" style="left:1218.0px;top:240.8px;width:30.0px;font-size:25px;line-height:25px;height:25px">際</span>
<span class="c" style="left:1059.5px;top:346.5px;width:40.0px;font-size:23.5px;line-height:23.5px;height:23.5px">18</span>
<span class="c j" style="left:1093.5px;top:345.1px;width:30.0px;font-size:25px;line-height:25px;height:25px">野</span>
<span class="c j" style="left:1155.8px;top:345.1px;width:30.0px;font-size:25px;line-height:25px;height:25px">沢</span>
<span class="c j" style="left:1218.0px;top:345.1px;width:30.0px;font-size:25px;line-height:25px;height:25px">南</span>
<span class="c" style="left:1059.5px;top:450.7px;width:40.0px;font-size:23.5px;line-height:23.5px;height:23.5px">19</span>
<span class="c j" style="left:1093.5px;top:449.2px;width:30.0px;font-size:25px;line-height:25px;height:25px">豊</span>
<span class="c j" style="left:1218.0px;top:449.2px;width:30.0px;font-size:25px;line-height:25px;height:25px">科</span>
<span class="c" style="left:1059.5px;top:554.9px;width:40.0px;font-size:23.5px;line-height:23.5px;height:23.5px">20</span>
<span class="c j" style="left:1093.5px;top:553.5px;width:30.0px;font-size:25px;line-height:25px;height:25px">上</span>
<span class="c j" style="left:1155.8px;top:553.5px;width:30.0px;font-size:25px;line-height:25px;height:25px">田</span>
<span class="c j" style="left:1218.0px;top:553.5px;width:30.0px;font-size:25px;line-height:25px;height:25px">東</span>
<span class="c" style="left:1059.5px;top:659.1px;width:40.0px;font-size:23.5px;line-height:23.5px;height:23.5px">21</span>
<span class="c j" style="left:1093.5px;top:657.7px;width:30.0px;font-size:25px;line-height:25px;height:25px">赤</span>
<span class="c j" style="left:1218.0px;top:657.7px;width:30.0px;font-size:25px;line-height:25px;height:25px">穂</span>
<span class="c" style="left:1059.5px;top:763.3px;width:40.0px;font-size:23.5px;line-height:23.5px;height:23.5px">22</span>
<span class="c j" style="left:1093.5px;top:761.9px;width:30.0px;font-size:25px;line-height:25px;height:25px">上</span>
<span class="c j" style="left:1218.0px;top:761.9px;width:30.0px;font-size:25px;line-height:25px;height:25px">田</span>
<span class="c" style="left:1059.5px;top:867.5px;width:40.0px;font-size:23.5px;line-height:23.5px;height:23.5px">23</span>
<span class="c j" style="left:1093.5px;top:866.1px;width:30.0px;font-size:25px;line-height:25px;height:25px">上</span>
<span class="c j" style="left:1124.6px;top:866.1px;width:30.0px;font-size:25px;line-height:25px;height:25px">伊</span>
<span class="c j" style="left:1155.8px;top:866.1px;width:30.0px;font-size:25px;line-height:25px;height:25px">那</span>
<span class="c j" style="left:1186.9px;top:866.1px;width:30.0px;font-size:25px;line-height:25px;height:25px">農</span>
<span class="c j" style="left:1218.0px;top:866.1px;width:30.0px;font-size:25px;line-height:25px;height:25px">業</span>
<span class="c" style="left:1059.5px;top:971.7px;width:40.0px;font-size:23.5px;line-height:23.5px;height:23.5px">24</span>
<span class="c j" style="left:1093.5px;top:970.2px;width:30.0px;font-size:25px;line-height:25px;height:25px">長</span>
<span class="c j" style="left:1135.0px;top:970.2px;width:30.0px;font-size:25px;line-height:25px;height:25px">野</span>
<span class="c j" style="left:1176.5px;top:970.2px;width:30.0px;font-size:25px;line-height:25px;height:25px">商</span>
<span class="c j" style="left:1218.0px;top:970.2px;width:30.0px;font-size:25px;line-height:25px;height:25px">業</span>
<span class="c" style="left:1059.5px;top:1075.9px;width:40.0px;font-size:23.5px;line-height:23.5px;height:23.5px">25</span>
<span class="c j" style="left:1093.5px;top:1074.5px;width:30.0px;font-size:25px;line-height:25px;height:25px">上</span>
<span class="c j" style="left:1155.8px;top:1074.5px;width:30.0px;font-size:25px;line-height:25px;height:25px">田</span>
<span class="c j" style="left:1218.0px;top:1074.5px;width:30.0px;font-size:25px;line-height:25px;height:25px">西</span>
<span class="c" style="left:1059.5px;top:1180.1px;width:40.0px;font-size:23.5px;line-height:23.5px;height:23.5px">26</span>
<span class="c j" style="left:1093.5px;top:1178.7px;width:30.0px;font-size:25px;line-height:25px;height:25px">屋</span>
<span class="c j" style="left:1218.0px;top:1178.7px;width:30.0px;font-size:25px;line-height:25px;height:25px">代</span>
<span class="c" style="left:1059.5px;top:1284.3px;width:40.0px;font-size:23.5px;line-height:23.5px;height:23.5px">27</span>
<span class="c j" style="left:1093.5px;top:1282.9px;width:30.0px;font-size:25px;line-height:25px;height:25px">飯</span>
<span class="c j" style="left:1218.0px;top:1282.9px;width:30.0px;font-size:25px;line-height:25px;height:25px">田</span>
<span class="c" style="left:1059.5px;top:1388.5px;width:40.0px;font-size:23.5px;line-height:23.5px;height:23.5px">28</span>
<span class="c j" style="left:1092.0px;top:1389.5px;width:24.0px;font-size:20px;line-height:20px;height:20px">小</span>
<span class="c j" style="left:1116.5px;top:1389.5px;width:24.0px;font-size:20px;line-height:20px;height:20px">諸</span>
<span class="c j" style="left:1140.4px;top:1389.5px;width:24.0px;font-size:20px;line-height:20px;height:20px">商</span>
<span class="c j" style="left:1164.2px;top:1389.5px;width:24.0px;font-size:20px;line-height:20px;height:20px">業</span>
<span class="c j" style="left:1182.7px;top:1389.5px;width:24.0px;font-size:20px;line-height:20px;height:20px">・</span>
<span class="c j" style="left:1197.5px;top:1389.5px;width:24.0px;font-size:20px;line-height:20px;height:20px">小</span>
<span class="c j" style="left:1223.0px;top:1389.5px;width:24.0px;font-size:20px;line-height:20px;height:20px">諸</span>
<span class="c" style="left:1059.5px;top:1492.7px;width:40.0px;font-size:23.5px;line-height:23.5px;height:23.5px">29</span>
<span class="c j" style="left:1093.5px;top:1491.3px;width:30.0px;font-size:25px;line-height:25px;height:25px">伊</span>
<span class="c j" style="left:1155.8px;top:1491.3px;width:30.0px;font-size:25px;line-height:25px;height:25px">那</span>
<span class="c j" style="left:1218.0px;top:1491.3px;width:30.0px;font-size:25px;line-height:25px;height:25px">西</span>
<span class="c" style="left:1059.5px;top:1596.9px;width:40.0px;font-size:23.5px;line-height:23.5px;height:23.5px">30</span>
<span class="c j" style="left:1094.5px;top:1596.9px;width:26.4px;font-size:22px;line-height:22px;height:22px">文</span>
<span class="c j" style="left:1119.8px;top:1596.9px;width:26.4px;font-size:22px;line-height:22px;height:22px">化</span>
<span class="c j" style="left:1145.0px;top:1596.9px;width:26.4px;font-size:22px;line-height:22px;height:22px">学</span>
<span class="c j" style="left:1170.3px;top:1596.9px;width:26.4px;font-size:22px;line-height:22px;height:22px">園</span>
<span class="c j" style="left:1195.5px;top:1596.9px;width:26.4px;font-size:22px;line-height:22px;height:22px">長</span>
<span class="c j" style="left:1220.8px;top:1596.9px;width:26.4px;font-size:22px;line-height:22px;height:22px">野</span>
<span class="c" style="left:1059.5px;top:1701.1px;width:40.0px;font-size:23.5px;line-height:23.5px;height:23.5px">31</span>
<span class="c j" style="left:1093.5px;top:1699.7px;width:30.0px;font-size:25px;line-height:25px;height:25px">飯</span>
<span class="c j" style="left:1218.0px;top:1699.7px;width:30.0px;font-size:25px;line-height:25px;height:25px">山</span>
<span class="c" style="left:1059.5px;top:1805.3px;width:40.0px;font-size:23.5px;line-height:23.5px;height:23.5px">32</span>
<span class="c j" style="left:1093.5px;top:1803.9px;width:30.0px;font-size:25px;line-height:25px;height:25px">松</span>
<span class="c j" style="left:1135.0px;top:1803.9px;width:30.0px;font-size:25px;line-height:25px;height:25px">商</span>
<span class="c j" style="left:1176.5px;top:1803.9px;width:30.0px;font-size:25px;line-height:25px;height:25px">学</span>
<span class="c j" style="left:1218.0px;top:1803.9px;width:30.0px;font-size:25px;line-height:25px;height:25px">園</span>
<span class="lb l" style="right:989.1px;top:294.7px">G1</span>
<span class="lb l" style="right:989.1px;top:503.1px">G4</span>
<span class="lb l" style="right:989.1px;top:711.5px">G3</span>
<span class="lb l" style="right:989.1px;top:919.9px">G2</span>
<span class="lb l" style="right:989.1px;top:1128.3px">J2</span>
<span class="lb l" style="right:989.1px;top:1336.7px">J3</span>
<span class="lb l" style="right:989.1px;top:1545.1px">J4</span>
<span class="lb l" style="right:989.1px;top:1753.5px">J1</span>
<span class="lb l" style="right:903.0px;top:398.9px">G1</span>
<span class="lb l" style="right:903.0px;top:815.7px">G2</span>
<span class="lb l" style="right:903.0px;top:1232.5px">J2</span>
<span class="lb l" style="right:903.0px;top:1649.3px">J1</span>
<span class="lb l" style="right:817.8px;top:607.3px">G3</span>
<span class="lb l" style="right:817.8px;top:1440.9px">J3</span>
<span class="lb l" style="right:732.9px;top:1024.1px">A2</span>
<span class="lb r" style="left:995.5px;top:294.7px">I1</span>
<span class="lb r" style="left:995.5px;top:503.1px">I3</span>
<span class="lb r" style="left:995.5px;top:711.5px">I4</span>
<span class="lb r" style="left:995.5px;top:919.9px">I2</span>
<span class="lb r" style="left:990.8px;top:1128.3px">H2</span>
<span class="lb r" style="left:990.8px;top:1336.7px">H4</span>
<span class="lb r" style="left:990.8px;top:1545.1px">H3</span>
<span class="lb r" style="left:990.8px;top:1753.5px">H1</span>
<span class="lb r" style="left:909.5px;top:398.9px">I1</span>
<span class="lb r" style="left:909.5px;top:815.7px">I2</span>
<span class="lb r" style="left:904.8px;top:1232.5px">H2</span>
<span class="lb r" style="left:904.8px;top:1649.3px">H1</span>
<span class="lb r" style="left:824.6px;top:607.3px">I3</span>
<span class="lb r" style="left:819.9px;top:1440.9px">H3</span>
<span class="lb r" style="left:735.0px;top:1024.1px">B1</span>
<span class="lb cc" style="left:611.4px;width:60px;top:1059.2px">A4</span>
<span class="lb cc" style="left:611.2px;width:60px;top:1580.0px">B4</span>
</body></html>
